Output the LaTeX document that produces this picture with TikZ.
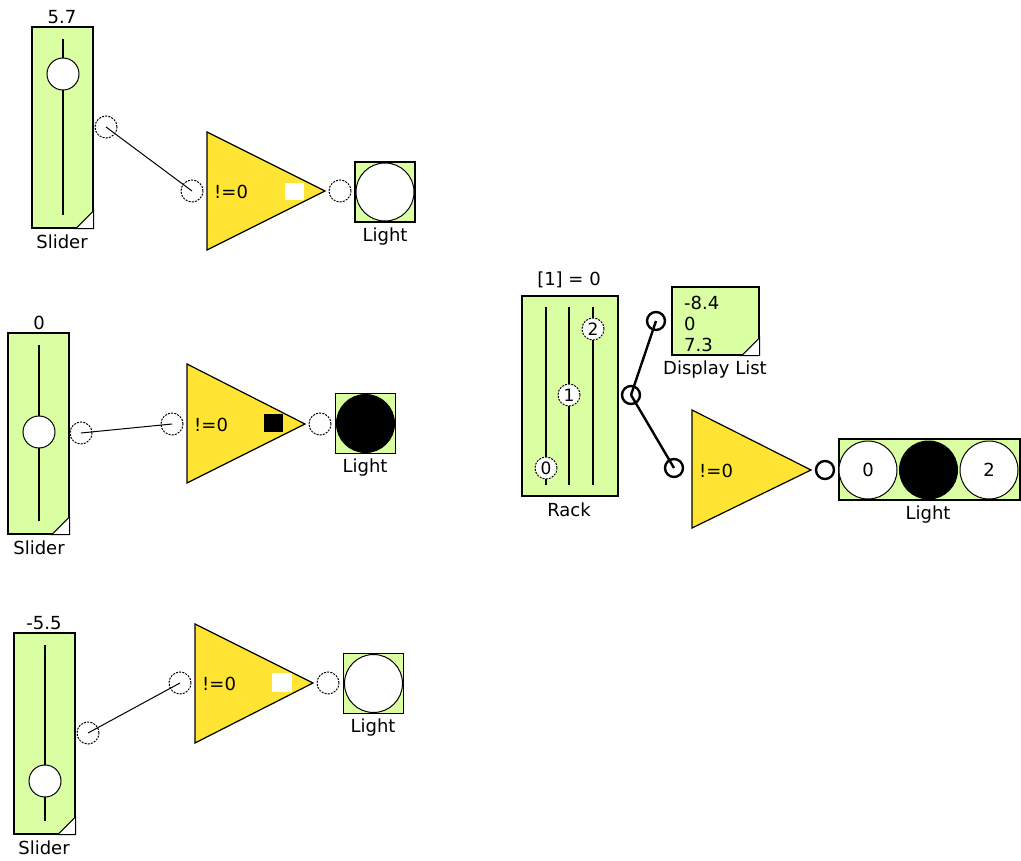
\documentclass[tikz,border=0pt]{standalone}
\usepackage{fontspec}
\setmainfont{DejaVu Sans}
\definecolor{panelgreen}{RGB}{218,255,163}
\definecolor{gateyellow}{RGB}{255,228,51}

\begin{document}
\begin{tikzpicture}[x=1pt,y=-1pt,
  every node/.style={inner sep=0pt,font=\fontsize{18}{20}\selectfont},
  panel/.style={draw,fill=panelgreen,line width=1.3pt},
  port/.style={circle,draw,fill=white,dash pattern=on 2pt off 1.2pt,line width=1pt,minimum size=22pt},
  portb/.style={circle,draw,fill=white,line width=2.4pt,minimum size=18pt},
  knob/.style={circle,draw,fill=white,line width=1pt,minimum size=32pt},
  rknob/.style={circle,draw,fill=white,dash pattern=on 2pt off 1.2pt,line width=1pt,minimum size=22pt,font=\fontsize{17}{18}\selectfont},
  lamp/.style={circle,draw,fill=white,line width=1pt,minimum size=58pt},
  gate/.style={draw,fill=gateyellow,line width=1.2pt},
  wire/.style={line width=1pt},
  wireb/.style={line width=2.4pt}]
\useasboundingbox (0,0) rectangle (1021,861);

% first row
\node[panel,minimum width=61pt,minimum height=201pt] (s1) at (62.5,127.5) {};
\draw[line width=1.3pt] (63,39) -- (63,215);
\node[knob] (k1) at (63,74) {};
\draw[fill=white,line width=1pt] (s1.south east) -- ++(-18,0) -- ++(18,-18) -- cycle;
\node (v1) at (62,17) {5.7};
\node (n1) at (62,242) {Slider};
\draw[gate] (207,132) -- (207,250) -- (325,191) -- cycle;
\node[anchor=west] (g1) at (214,192) {!=0};
\fill[white] (285,183) rectangle (304,200);
\node[port] (o1) at (106,127) {};
\node[port] (i1) at (192,191) {};
\node[port] (q1) at (340,191) {};
\node[panel,minimum width=60pt,minimum height=60pt] (l1) at (385,192) {};
\node[lamp] (c1) at (385,192) {};
\node (m1) at (385,237) {Light};
\draw[wire] (o1.center) -- (i1.center);

% second row
\node[panel,minimum width=61pt,minimum height=201pt] (s2) at (38.5,433.5) {};
\draw[line width=1.3pt] (39,345) -- (39,521);
\node[knob] (k2) at (39,432) {};
\draw[fill=white,line width=1pt] (s2.south east) -- ++(-18,0) -- ++(18,-18) -- cycle;
\node (v2) at (39,323) {0};
\node (n2) at (39,548) {Slider};
\draw[gate] (187,364) -- (187,483) -- (305,424) -- cycle;
\node[anchor=west] (g2) at (194,425) {!=0};
\fill[black] (264,414) rectangle (283,432);
\node[port] (o2) at (81,433) {};
\node[port] (i2) at (172,424) {};
\node[port] (q2) at (320,424) {};
\node[panel,minimum width=60pt,minimum height=60pt] (l2) at (365.5,423.5) {};
\node[lamp,fill=black] (c2) at (365.5,423.5) {};
\node (m2) at (365,468) {Light};
\draw[wire] (o2.center) -- (i2.center);

% third row
\node[panel,minimum width=61pt,minimum height=201pt] (s3) at (44.5,733.5) {};
\draw[line width=1.3pt] (45,645) -- (45,821);
\node[knob] (k3) at (45,781) {};
\draw[fill=white,line width=1pt] (s3.south east) -- ++(-18,0) -- ++(18,-18) -- cycle;
\node (v3) at (44,623) {-5.5};
\node (n3) at (44,848) {Slider};
\draw[gate] (195,624) -- (195,743) -- (313,683) -- cycle;
\node[anchor=west] (g3) at (202,684) {!=0};
\fill[white] (272,673) rectangle (292,692);
\node[port] (o3) at (88,733) {};
\node[port] (i3) at (180,683) {};
\node[port] (q3) at (328,683) {};
\node[panel,minimum width=60pt,minimum height=60pt] (l3) at (373.5,683.5) {};
\node[lamp] (c3) at (373.5,683.5) {};
\node (m3) at (373,728) {Light};
\draw[wire] (o3.center) -- (i3.center);

% rack
\node[panel,minimum width=96pt,minimum height=200pt] (r) at (570,396) {};
\foreach \x in {546,569,593}
  \draw[line width=1.3pt] (\x,307) -- (\x,485);
\node[rknob] (r0) at (546,468) {0};
\node[rknob] (r1) at (569,395) {1};
\node[rknob] (r2) at (593,329) {2};
\node (rv) at (569,280) {[1] = 0};
\node (rn) at (569,510) {Rack};
\node[panel,minimum width=87pt,minimum height=68pt] (d) at (715.5,321) {};
\draw[fill=white,line width=1pt] (d.south east) -- ++(-18,0) -- ++(18,-18) -- cycle;
\node[anchor=west] (d1) at (684,303) {-8.4};
\node[anchor=west] (d2) at (684,324) {0};
\node[anchor=west] (d3) at (684,345) {7.3};
\node (dn) at (715,370) {Display List};
\draw[gate] (692,410) -- (692,528) -- (811,470) -- cycle;
\node[anchor=west] (g4) at (699,471) {!=0};
\node[panel,minimum width=181pt,minimum height=61pt] (l4) at (929.5,469.5) {};
\node[lamp] (c40) at (868,470) {0};
\node[lamp,fill=black] (c41) at (928.5,470) {};
\node[lamp] (c42) at (989,470) {2};
\node (m4) at (928,515) {Light};
\node[portb] (ro) at (631,395) {};
\node[portb] (di) at (656,321) {};
\node[portb] (gi) at (674,468) {};
\node[portb] (go) at (825,470) {};
\draw[wireb] (ro.center) -- (di.center);
\draw[wireb] (ro.center) -- (gi.center);
\end{tikzpicture}
\end{document}
